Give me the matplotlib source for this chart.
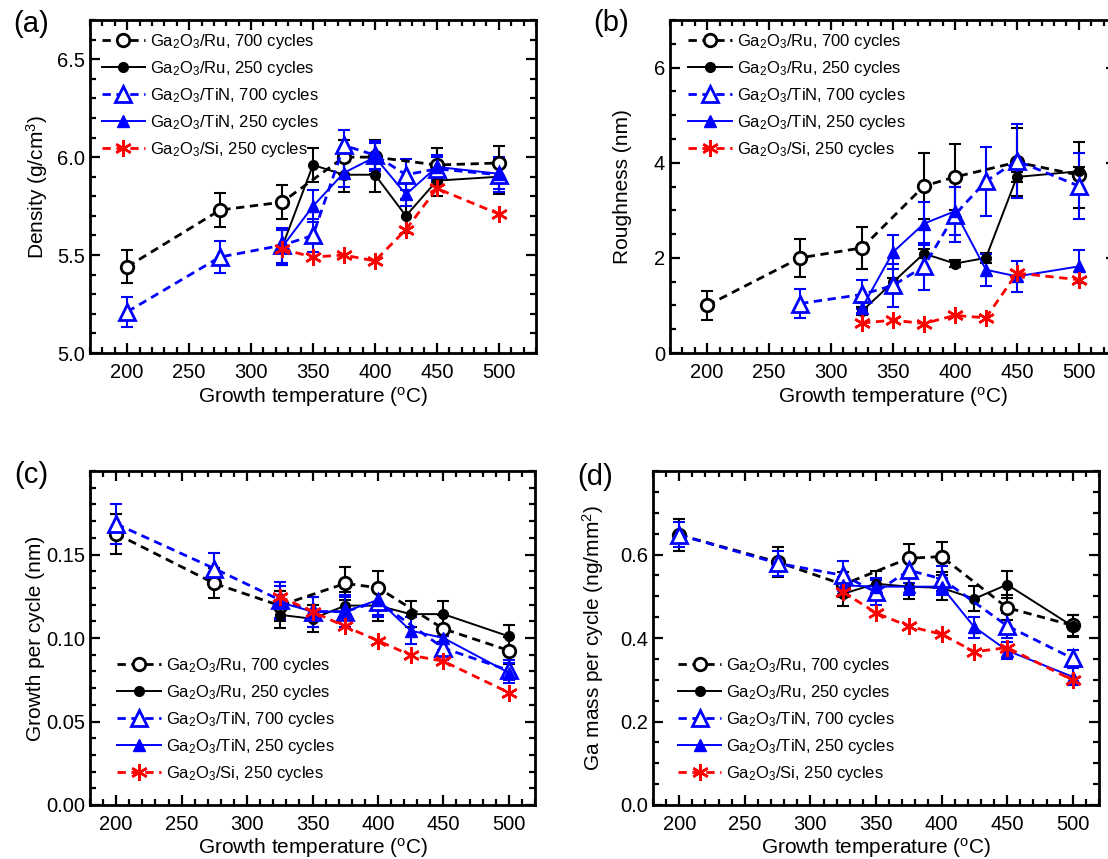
import numpy as np
import matplotlib
matplotlib.use('Agg')
import matplotlib.pyplot as plt
from matplotlib.ticker import MultipleLocator

plt.rcParams['font.family'] = ['Liberation Sans', 'DejaVu Sans']
plt.rcParams['mathtext.fontset'] = 'custom'
plt.rcParams['mathtext.rm'] = 'Liberation Sans'
plt.rcParams['mathtext.it'] = 'Liberation Sans:italic'
plt.rcParams['mathtext.default'] = 'regular'

# ---- data ----
T_ru700 = [200, 275, 325, 375, 400, 450, 500]
T_250 = [325, 350, 375, 400, 425, 450, 500]
T_tin700_ab = [200, 275, 325, 350, 375, 400, 425, 450, 500]
T_tin700_b = [275, 325, 350, 375, 400, 425, 450, 500]
T_tin700_cd = [200, 275, 325, 350, 375, 400, 450, 500]

# (a) density
dens_ru700 = [5.44, 5.73, 5.77, 6.00, 6.00, 5.96, 5.97]
dens_ru700_err = [0.085, 0.088, 0.088, 0.085, 0.085, 0.087, 0.088]
dens_ru250 = [5.54, 5.96, 5.91, 5.91, 5.70, 5.88, 5.90]
dens_ru250_err = [0.09, 0.088, 0.088, 0.088, 0.085, 0.08, 0.088]
dens_tin700 = [5.21, 5.49, 5.55, 5.60, 6.06, 6.01, 5.91, 5.94, 5.91]
dens_tin700_err = [0.078, 0.08, 0.09, 0.085, 0.08, 0.07, 0.08, 0.06, 0.09]
dens_tin250 = [5.54, 5.75, 5.92, 6.00, 5.81, 5.95, 5.915]
dens_tin250_err = [0.09, 0.08, 0.07, 0.07, 0.06, 0.06, 0.08]
dens_si = [5.53, 5.49, 5.50, 5.47, 5.63, 5.84, 5.71]

# (b) roughness
rough_ru700 = [1.0, 2.0, 2.21, 3.51, 3.70, 4.01, 3.74]
rough_ru700_err = [0.3, 0.4, 0.44, 0.7, 0.7, 0.72, 0.7]
rough_ru250 = [0.88, 1.49, 2.09, 1.88, 2.0, 3.70, 3.82]
rough_ru250_err = [0.08, 0.08, 0.1, 0.08, 0.1, 0.1, 0.1]
rough_tin700 = [1.04, 1.23, 1.42, 1.82, 2.91, 3.61, 4.04, 3.51]
rough_tin700_err = [0.3, 0.31, 0.45, 0.5, 0.57, 0.72, 0.78, 0.7]
rough_tin250 = [0.95, 2.12, 2.72, 2.98, 1.75, 1.61, 1.82]
rough_tin250_err = [0.1, 0.35, 0.45, 0.5, 0.34, 0.33, 0.34]
rough_si = [0.63, 0.69, 0.62, 0.79, 0.74, 1.68, 1.54]

# (c) growth per cycle
gpc_ru700 = [0.1624, 0.1327, 0.1194, 0.1327, 0.1301, 0.1055, 0.0925]
gpc_ru700_err = [0.012, 0.009, 0.009, 0.01, 0.01, 0.008, 0.008]
gpc_ru250 = [0.1139, 0.1115, 0.1194, 0.1194, 0.1143, 0.1143, 0.101]
gpc_ru250_err = [0.008, 0.008, 0.008, 0.009, 0.008, 0.008, 0.007]
gpc_tin700 = [0.1683, 0.1416, 0.1228, 0.1158, 0.1158, 0.1218, 0.094, 0.0806]
gpc_tin700_err = [0.012, 0.009, 0.011, 0.009, 0.01, 0.009, 0.007, 0.006]
gpc_tin250 = [0.1214, 0.1158, 0.1158, 0.1228, 0.1044, 0.1, 0.0792]
gpc_tin250_err = [0.01, 0.009, 0.009, 0.009, 0.008, 0.007, 0.006]
gpc_si = [0.1248, 0.1158, 0.1069, 0.0984, 0.0897, 0.0861, 0.0673]

# (d) Ga mass per cycle
mass_ru700 = [0.647, 0.582, 0.528, 0.591, 0.595, 0.4725, 0.43]
mass_ru700_err = [0.039, 0.035, 0.03, 0.033, 0.036, 0.03, 0.025]
mass_ru250 = [0.506, 0.53, 0.523, 0.52, 0.494, 0.528, 0.428]
mass_ru250_err = [0.03, 0.03, 0.03, 0.03, 0.03, 0.032, 0.026]
mass_tin700 = [0.647, 0.579, 0.55, 0.51, 0.562, 0.542, 0.429, 0.351]
mass_tin700_err = [0.03, 0.03, 0.035, 0.03, 0.03, 0.03, 0.03, 0.02]
mass_tin250 = [0.526, 0.523, 0.523, 0.523, 0.426, 0.37, 0.307]
mass_tin250_err = [0.02, 0.02, 0.02, 0.02, 0.025, 0.02, 0.02]
mass_si = [0.51, 0.46, 0.428, 0.409, 0.367, 0.377, 0.299]

labels = ['Ga$_2$O$_3$/Ru, 700 cycles', 'Ga$_2$O$_3$/Ru, 250 cycles',
          'Ga$_2$O$_3$/TiN, 700 cycles', 'Ga$_2$O$_3$/TiN, 250 cycles',
          'Ga$_2$O$_3$/Si, 250 cycles']

BLUE = '#0000ff'
RED = '#ff0000'
styles = [
    dict(color='black', ls=(0, (3, 2)), lw=2.0, marker='o', ms=9, mfc='white', mec='black', mew=2.0),
    dict(color='black', ls='-', lw=1.4, marker='o', ms=7, mfc='black', mec='black', mew=1),
    dict(color=BLUE, ls=(0, (3, 2)), lw=2.0, marker='^', ms=11, mfc='white', mec=BLUE, mew=2.0),
    dict(color=BLUE, ls='-', lw=1.4, marker='^', ms=8, mfc=BLUE, mec=BLUE, mew=1),
    dict(color=RED, ls=(0, (3, 2)), lw=2.0, marker=(6, 2, 0), ms=12, mfc=RED, mec=RED, mew=1.8),
]


def draw(ax, series):
    # series: list of (x, y, err or None) in legend order
    for (x, y, e), st in zip(series, styles):
        if e is not None:
            ax.errorbar(x, y, yerr=e, fmt='none', ecolor=st['color'], elinewidth=1.5,
                        capsize=4.5, capthick=1.5, zorder=2)
    for (x, y, e), st, lab in zip(series, styles, labels):
        ax.plot(x, y, label=lab, zorder=3, **st)


def style_axes(ax, ylim, ymaj, ymin, xlim, fmt):
    ax.set_xlim(*xlim)
    ax.set_ylim(*ylim)
    ax.xaxis.set_major_locator(MultipleLocator(50))
    ax.xaxis.set_minor_locator(MultipleLocator(10))
    ax.yaxis.set_major_locator(MultipleLocator(ymaj))
    ax.yaxis.set_minor_locator(MultipleLocator(ymin))
    ax.yaxis.set_major_formatter(plt.FormatStrFormatter(fmt))
    ax.tick_params(which='both', direction='in', top=True, right=True, labelsize=14.5, width=1.6)
    ax.tick_params(which='major', length=7)
    ax.tick_params(which='minor', length=4)
    ax.tick_params(axis='x', pad=7)
    for s in ax.spines.values():
        s.set_linewidth(2.0)
    ax.set_xlabel('Growth temperature ($^{o}$C)', fontsize=15, labelpad=2)


W, H = 1108, 859
fig = plt.figure(figsize=(W / 100, H / 100), dpi=100)


def add_ax(l, r, t, b):
    return fig.add_axes([l / W, 1 - b / H, (r - l) / W, (b - t) / H])


ax_a = add_ax(90, 536, 20, 353)
ax_b = add_ax(670, 1116, 20, 353)
ax_c = add_ax(90, 535, 471, 805)
ax_d = add_ax(653, 1099, 471, 805)

draw(ax_a, [(T_ru700, dens_ru700, dens_ru700_err), (T_250, dens_ru250, dens_ru250_err),
            (T_tin700_ab, dens_tin700, dens_tin700_err), (T_250, dens_tin250, dens_tin250_err),
            (T_250, dens_si, None)])
draw(ax_b, [(T_ru700, rough_ru700, rough_ru700_err), (T_250, rough_ru250, rough_ru250_err),
            (T_tin700_b, rough_tin700, rough_tin700_err), (T_250, rough_tin250, rough_tin250_err),
            (T_250, rough_si, None)])
draw(ax_c, [(T_ru700, gpc_ru700, gpc_ru700_err), (T_250, gpc_ru250, gpc_ru250_err),
            (T_tin700_cd, gpc_tin700, gpc_tin700_err), (T_250, gpc_tin250, gpc_tin250_err),
            (T_250, gpc_si, None)])
draw(ax_d, [(T_ru700, mass_ru700, mass_ru700_err), (T_250, mass_ru250, mass_ru250_err),
            (T_tin700_cd, mass_tin700, mass_tin700_err), (T_250, mass_tin250, mass_tin250_err),
            (T_250, mass_si, None)])

style_axes(ax_a, (5.0, 6.7), 0.5, 0.1, (170, 530), '%.1f')
style_axes(ax_b, (0, 7), 2, 0.5, (170, 530), '%d')
style_axes(ax_c, (0, 0.2), 0.05, 0.01, (180, 520), '%.2f')
style_axes(ax_d, (0, 0.8), 0.2, 0.05, (180, 520), '%.1f')
ax_c.set_yticks([0, 0.05, 0.10, 0.15])
ax_d.set_yticks([0, 0.2, 0.4, 0.6])

ax_a.set_ylabel('Density (g/cm$^3$)', fontsize=15)
ax_b.set_ylabel('Roughness (nm)', fontsize=15)
ax_c.set_ylabel('Growth per cycle (nm)', fontsize=15)
ax_d.set_ylabel('Ga mass per cycle (ng/mm$^2$)', fontsize=15)
ax_a.yaxis.set_label_coords(-0.09, 0.5)
ax_b.yaxis.set_label_coords(-0.085, 0.5)
ax_c.yaxis.set_label_coords(-0.10, 0.5)
ax_d.yaxis.set_label_coords(-0.105, 0.5)

leg_kw = dict(frameon=False, fontsize=12, handlelength=2.6, handletextpad=0.3,
              labelspacing=0.48, borderpad=0.2)
ax_a.legend(loc='upper left', bbox_to_anchor=(0.0, 1.0), **leg_kw)
ax_b.legend(loc='upper left', bbox_to_anchor=(0.015, 1.0), **leg_kw)
ax_c.legend(loc='lower left', bbox_to_anchor=(0.035, 0.03), **leg_kw)
ax_d.legend(loc='lower left', bbox_to_anchor=(0.03, 0.03), **leg_kw)

for txt, x, y in [('(a)', 31, 24), ('(b)', 611, 23), ('(c)', 31, 475), ('(d)', 595, 477)]:
    fig.text(x / W, 1 - y / H, txt, fontsize=21, ha='center', va='center')

fig.savefig('out.png', dpi=100)
